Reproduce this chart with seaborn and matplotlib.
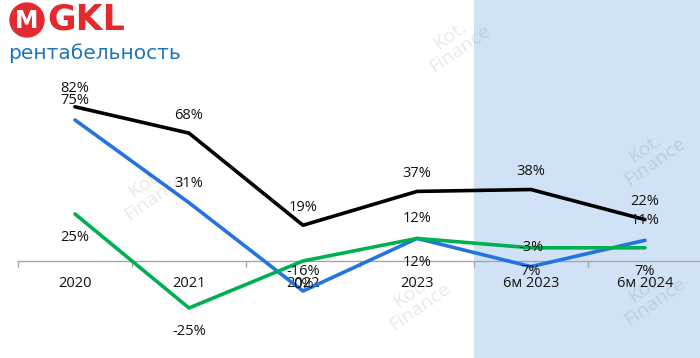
import numpy as np
import pandas as pd
import matplotlib
matplotlib.use("Agg")
import matplotlib.pyplot as plt
from matplotlib.patches import Ellipse
from matplotlib.ticker import FixedLocator
import seaborn as sns

categories = ["2020", "2021", "2022", "2023", "6м 2023", "6м 2024"]
series_names = ["black", "blue", "green"]
black_vals = [82, 68, 19, 37, 38, 22]
blue_vals = [75, 31, -16, 12, -3, 11]
green_vals = [25, -25, 0, 12, 7, 7]
colors = {"black": "#000000", "blue": "#2474E0", "green": "#00B050"}
label_side = {"black": 13, "blue": 14, "green": -17}

sns.set_theme(style="white")
plt.rcParams["font.family"] = ["Open Sans", "DejaVu Sans"]

df = pd.DataFrame({
    "cat": categories * 3,
    "val": black_vals + blue_vals + green_vals,
    "series": ["black"] * 6 + ["blue"] * 6 + ["green"] * 6,
})

fig = plt.figure(figsize=(7.0, 3.58), dpi=100)
ax = fig.add_axes([18 / 700, 0, 684 / 700, 1])
ax.axvspan(3.5, 5.5, color="#D1E2F7", zorder=0, lw=0)

# faint watermarks
for (x, y) in [(150, 190), (455, 42), (415, 300), (650, 155), (650, 295)]:
    fig.text(x / 700, 1 - y / 358, "Kot.\nFinance", rotation=35, color="#000000",
             alpha=0.09, fontsize=14, ha="center", va="center", zorder=0.5,
             linespacing=0.9)

sns.lineplot(data=df, x="cat", y="val", hue="series", palette=colors,
             linewidth=2.6, ax=ax, legend=False, sort=False, zorder=3)

ax.set_xlim(-0.5, 5.5)
ax.set_ylim(-51.6, 138.8)
for s in ["top", "right", "left"]:
    ax.spines[s].set_visible(False)
ax.spines["bottom"].set_position(("data", 0))
ax.spines["bottom"].set_color("#A6A6A6")
ax.spines["bottom"].set_linewidth(1.0)
ax.spines["bottom"].set_zorder(2)
ax.set_yticks([])
ax.set_xlabel("")
ax.set_ylabel("")
ax.set_xticks(range(6))
ax.set_xticklabels(categories, fontsize=10.5, color="#111111")
ax.xaxis.set_minor_locator(FixedLocator(np.arange(-0.5, 6.0, 1.0)))
ax.tick_params(axis="x", which="major", length=0, pad=11)
ax.tick_params(axis="x", which="minor", length=4, width=1.0, color="#A6A6A6",
               direction="out", bottom=True)

for name, vals in zip(series_names, [black_vals, blue_vals, green_vals]):
    off = label_side[name]
    for i, v in enumerate(vals):
        ax.annotate(f"{v}%", (i, v), xytext=(0, off), textcoords="offset points",
                    ha="center", va="center", fontsize=10.5, color="#111111", zorder=4)

# logo
fig.patches.append(Ellipse((27 / 700, 1 - 20 / 358), 34 / 700, 34 / 358,
                           transform=fig.transFigure, color="#E32A2F", zorder=5))
fig.text(27 / 700, 1 - 21 / 358, "M", color="white", fontsize=17, fontweight="bold",
         ha="center", va="center", family="DejaVu Sans", zorder=6)
fig.text(47 / 700, 1 - 20 / 358, "GKL", color="#E32A2F", fontsize=25, fontweight="bold",
         ha="left", va="center", family="DejaVu Sans", zorder=6)
fig.text(8 / 700, 1 - 53 / 358, "рентабельность", color="#1F74BE", fontsize=14.5,
         ha="left", va="center", family="DejaVu Sans", zorder=6)

fig.savefig("out.png", dpi=100)
